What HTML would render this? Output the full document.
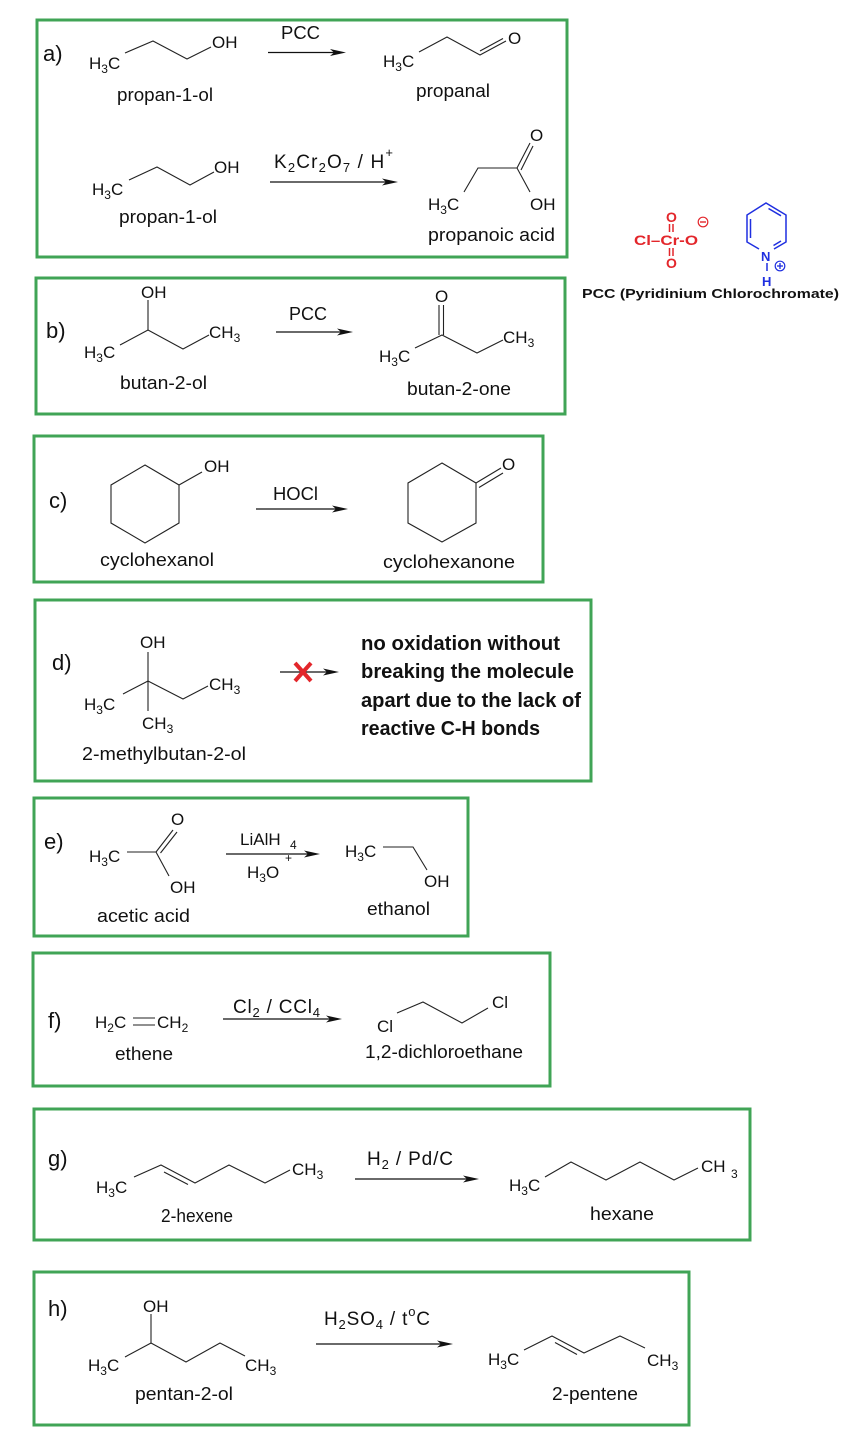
<!DOCTYPE html>
<html>
<head>
<meta charset="utf-8">
<style>
  html,body{margin:0;padding:0;background:#fff;}
  svg{display:block;}
  text{font-family:"Liberation Sans",Arial,sans-serif;fill:#111;}
  .a{font-size:17px;}
  .r{font-size:19px;}
  .r .s{font-size:13px;}
  .n{font-size:18px;}
  .s{font-size:12px;}
  .lab{font-size:22px;}
  .bx{fill:none;stroke:#40a456;stroke-width:3;}
  .b{stroke:#222;stroke-width:1.1;fill:none;}
  .ar{stroke:#111;stroke-width:1.2;}
  .ah{fill:#111;}
  .bold{font-weight:bold;font-size:20px;}
  .red{fill:#e3262b;font-weight:bold;font-size:14px;}
  .blue{fill:#1f2fe0;font-weight:bold;font-size:13px;}
</style>
</head>
<body>
<svg width="851" height="1446" viewBox="0 0 851 1446" xmlns="http://www.w3.org/2000/svg">
<rect x="0" y="0" width="851" height="1446" fill="#fff"/>

<!-- ============ a) ============ -->
<rect class="bx" x="37" y="20" width="530" height="237"/>
<text class="lab" x="43" y="61">a)</text>
<text class="a" x="89" y="69">H<tspan class="s" dy="4">3</tspan><tspan dy="-4">C</tspan></text>
<polyline class="b" points="125,53 153,41 187,59 211,47"/>
<text class="a" x="212" y="48">OH</text>
<text class="n" x="117" y="101" textLength="96" lengthAdjust="spacingAndGlyphs">propan-1-ol</text>
<text class="n" x="281" y="39" textLength="39" lengthAdjust="spacingAndGlyphs">PCC</text>
<line class="ar" x1="268" y1="52.5" x2="340" y2="52.5"/>
<polygon class="ah" points="346,52.5 330,49 334,52.5 330,56"/>
<text class="a" x="383" y="67">H<tspan class="s" dy="4">3</tspan><tspan dy="-4">C</tspan></text>
<polyline class="b" points="419,52 447,37 480,55 506,41"/>
<line class="b" x1="480" y1="51" x2="503" y2="38.5"/>
<text class="a" x="508" y="44">O</text>
<text class="n" x="416" y="97" textLength="74" lengthAdjust="spacingAndGlyphs">propanal</text>

<text class="a" x="92" y="195">H<tspan class="s" dy="4">3</tspan><tspan dy="-4">C</tspan></text>
<polyline class="b" points="129,180 157,167 190,185 214,172"/>
<text class="a" x="214" y="173">OH</text>
<text class="n" x="119" y="223" textLength="98" lengthAdjust="spacingAndGlyphs">propan-1-ol</text>
<text class="r" x="274" y="168" textLength="119" lengthAdjust="spacing">K<tspan class="s" dy="4">2</tspan><tspan dy="-4">Cr</tspan><tspan class="s" dy="4">2</tspan><tspan dy="-4">O</tspan><tspan class="s" dy="4">7</tspan><tspan dy="-4"> / H</tspan><tspan class="s" dy="-11">+</tspan></text>
<line class="ar" x1="270" y1="182" x2="392" y2="182"/>
<polygon class="ah" points="398,182 382,178.5 386,182 382,185.5"/>
<text class="a" x="428" y="210">H<tspan class="s" dy="4">3</tspan><tspan dy="-4">C</tspan></text>
<polyline class="b" points="464,192 478,168 517,168 530,192"/>
<line class="b" x1="517" y1="168" x2="530" y2="143"/>
<line class="b" x1="521" y1="170" x2="533" y2="146"/>
<text class="a" x="530" y="141">O</text>
<text class="a" x="530" y="210">OH</text>
<text class="n" x="428" y="241" textLength="127" lengthAdjust="spacingAndGlyphs">propanoic acid</text>

<!-- ============ PCC structure ============ -->
<text class="red" x="666" y="222">O</text>
<line x1="669.5" y1="224" x2="669.5" y2="232" stroke="#e3262b" stroke-width="1.5"/>
<line x1="673" y1="224" x2="673" y2="232" stroke="#e3262b" stroke-width="1.5"/>
<text class="red" x="634" y="245" textLength="64" lengthAdjust="spacingAndGlyphs">Cl–Cr-O</text>
<line x1="669.5" y1="248" x2="669.5" y2="256" stroke="#e3262b" stroke-width="1.5"/>
<line x1="673" y1="248" x2="673" y2="256" stroke="#e3262b" stroke-width="1.5"/>
<text class="red" x="666" y="268">O</text>
<circle cx="703" cy="222" r="4.8" fill="none" stroke="#e3262b" stroke-width="1.2"/>
<line x1="700" y1="222" x2="706" y2="222" stroke="#e3262b" stroke-width="1.4"/>

<g stroke="#1f2fe0" stroke-width="1.5" fill="none">
  <polyline points="759,249 747,242 747,215 766,203 786,215 786,242 774,249"/>
  <line x1="750.5" y1="219" x2="750.5" y2="238"/>
  <line x1="768.5" y1="208.5" x2="781" y2="215.8"/>
  <line x1="781" y1="241" x2="773.5" y2="245.5"/>
  <line x1="767" y1="263" x2="767" y2="271"/>
  <circle cx="780" cy="266" r="4.8" stroke-width="1.2"/>
  <line x1="777" y1="266" x2="783" y2="266" stroke-width="1.3"/>
  <line x1="780" y1="263" x2="780" y2="269" stroke-width="1.3"/>
</g>
<text class="blue" x="761" y="261">N</text>
<text class="blue" x="762" y="286">H</text>
<text x="582" y="298" font-weight="bold" font-size="13" textLength="257" lengthAdjust="spacingAndGlyphs">PCC (Pyridinium Chlorochromate)</text>

<!-- ============ b) ============ -->
<rect class="bx" x="36" y="278" width="529" height="136"/>
<text class="lab" x="46" y="338">b)</text>
<text class="a" x="141" y="298">OH</text>
<line class="b" x1="148" y1="300" x2="148" y2="330"/>
<text class="a" x="84" y="358">H<tspan class="s" dy="4">3</tspan><tspan dy="-4">C</tspan></text>
<polyline class="b" points="120,345 148,330 183,349 209,335"/>
<text class="a" x="209" y="338">CH<tspan class="s" dy="4">3</tspan></text>
<text class="n" x="120" y="389" textLength="87" lengthAdjust="spacingAndGlyphs">butan-2-ol</text>
<text class="n" x="289" y="320" textLength="38" lengthAdjust="spacingAndGlyphs">PCC</text>
<line class="ar" x1="276" y1="332" x2="347" y2="332"/>
<polygon class="ah" points="353,332 337,328.5 341,332 337,335.5"/>
<text class="a" x="435" y="302">O</text>
<line class="b" x1="439" y1="305" x2="439" y2="335"/>
<line class="b" x1="443.5" y1="305" x2="443.5" y2="335"/>
<text class="a" x="379" y="362">H<tspan class="s" dy="4">3</tspan><tspan dy="-4">C</tspan></text>
<polyline class="b" points="415,348 442,335 477,353 503,340"/>
<text class="a" x="503" y="343">CH<tspan class="s" dy="4">3</tspan></text>
<text class="n" x="407" y="395" textLength="104" lengthAdjust="spacingAndGlyphs">butan-2-one</text>

<!-- ============ c) ============ -->
<rect class="bx" x="34" y="436" width="509" height="146"/>
<text class="lab" x="49" y="508">c)</text>
<polygon class="b" points="145,465 179,485 179,523 145,543 111,523 111,485"/>
<line class="b" x1="179" y1="485" x2="202" y2="472"/>
<text class="a" x="204" y="472">OH</text>
<text class="n" x="273" y="500" textLength="45" lengthAdjust="spacingAndGlyphs">HOCl</text>
<line class="ar" x1="256" y1="509" x2="342" y2="509"/>
<polygon class="ah" points="348,509 332,505.5 336,509 332,512.5"/>
<polygon class="b" points="442,463 476,483 476,523 442,542 408,523 408,483"/>
<line class="b" x1="476" y1="483" x2="501" y2="468"/>
<line class="b" x1="479" y1="487.5" x2="503" y2="473"/>
<text class="a" x="502" y="470">O</text>
<text class="n" x="100" y="566" textLength="114" lengthAdjust="spacingAndGlyphs">cyclohexanol</text>
<text class="n" x="383" y="568" textLength="132" lengthAdjust="spacingAndGlyphs">cyclohexanone</text>

<!-- ============ d) ============ -->
<rect class="bx" x="35" y="600" width="556" height="181"/>
<text class="lab" x="52" y="670">d)</text>
<text class="a" x="140" y="648">OH</text>
<line class="b" x1="148" y1="652" x2="148" y2="711"/>
<text class="a" x="84" y="710">H<tspan class="s" dy="4">3</tspan><tspan dy="-4">C</tspan></text>
<polyline class="b" points="123,694 148,681 183,699 208,686"/>
<text class="a" x="209" y="690">CH<tspan class="s" dy="4">3</tspan></text>
<text class="a" x="142" y="729">CH<tspan class="s" dy="4">3</tspan></text>
<text class="n" x="82" y="760" textLength="164" lengthAdjust="spacingAndGlyphs">2-methylbutan-2-ol</text>
<line class="ar" x1="280" y1="672" x2="333" y2="672"/>
<polygon class="ah" points="339,672 323,668.5 327,672 323,675.5"/>
<g stroke="#e3262b" stroke-width="4" stroke-linecap="butt">
  <line x1="295" y1="663" x2="311" y2="681"/>
  <line x1="311" y1="663" x2="295" y2="681"/>
</g>
<text class="bold" x="361" y="650" textLength="199" lengthAdjust="spacingAndGlyphs">no oxidation without</text>
<text class="bold" x="361" y="678" textLength="213" lengthAdjust="spacingAndGlyphs">breaking the molecule</text>
<text class="bold" x="361" y="707" textLength="220" lengthAdjust="spacingAndGlyphs">apart due to the lack of</text>
<text class="bold" x="361" y="735" textLength="179" lengthAdjust="spacingAndGlyphs">reactive C-H bonds</text>

<!-- ============ e) ============ -->
<rect class="bx" x="34" y="798" width="434" height="138"/>
<text class="lab" x="44" y="849">e)</text>
<text class="a" x="89" y="862">H<tspan class="s" dy="4">3</tspan><tspan dy="-4">C</tspan></text>
<line class="b" x1="127" y1="852" x2="156" y2="852"/>
<line class="b" x1="156" y1="852" x2="173" y2="830"/>
<line class="b" x1="160.5" y1="853" x2="177" y2="832"/>
<line class="b" x1="156" y1="852" x2="169" y2="876"/>
<text class="a" x="171" y="825">O</text>
<text class="a" x="170" y="893">OH</text>
<text class="n" x="97" y="922" textLength="93" lengthAdjust="spacingAndGlyphs">acetic acid</text>
<text class="a" x="240" y="845">LiAlH</text>
<text class="s" x="290" y="849" font-size="13">4</text>
<line class="ar" x1="226" y1="854" x2="314" y2="854"/>
<polygon class="ah" points="320,854 304,850.5 308,854 304,857.5"/>
<text class="a" x="247" y="878">H<tspan class="s" dy="4">3</tspan><tspan dy="-4">O</tspan></text>
<text class="s" x="285" y="862">+</text>
<text class="a" x="345" y="857">H<tspan class="s" dy="4">3</tspan><tspan dy="-4">C</tspan></text>
<polyline class="b" points="383,847 413,847 427,870"/>
<text class="a" x="424" y="887">OH</text>
<text class="n" x="367" y="915" textLength="63" lengthAdjust="spacingAndGlyphs">ethanol</text>

<!-- ============ f) ============ -->
<rect class="bx" x="33" y="953" width="517" height="133"/>
<text class="lab" x="48" y="1028">f)</text>
<text class="a" x="95" y="1028">H<tspan class="s" dy="4">2</tspan><tspan dy="-4">C</tspan></text>
<line class="b" x1="133" y1="1018" x2="155" y2="1018"/>
<line class="b" x1="133" y1="1025" x2="155" y2="1025"/>
<text class="a" x="157" y="1028">CH<tspan class="s" dy="4">2</tspan></text>
<text class="n" x="115" y="1060" textLength="58" lengthAdjust="spacingAndGlyphs">ethene</text>
<text class="r" x="233" y="1013" textLength="87" lengthAdjust="spacing">Cl<tspan class="s" dy="4">2</tspan><tspan dy="-4"> / CCl</tspan><tspan class="s" dy="4">4</tspan></text>
<line class="ar" x1="223" y1="1019" x2="336" y2="1019"/>
<polygon class="ah" points="342,1019 326,1015.5 330,1019 326,1022.5"/>
<text class="a" x="377" y="1032">Cl</text>
<polyline class="b" points="397,1013 423,1002 462,1023 488,1008"/>
<text class="a" x="492" y="1008">Cl</text>
<text class="n" x="365" y="1058" textLength="158" lengthAdjust="spacingAndGlyphs">1,2-dichloroethane</text>

<!-- ============ g) ============ -->
<rect class="bx" x="34" y="1109" width="716" height="131"/>
<text class="lab" x="48" y="1166">g)</text>
<text class="a" x="96" y="1193">H<tspan class="s" dy="4">3</tspan><tspan dy="-4">C</tspan></text>
<polyline class="b" points="134,1177 161,1165 195,1183 229,1165 265,1183 290,1170"/>
<line class="b" x1="164" y1="1172" x2="188" y2="1184.5"/>
<text class="a" x="292" y="1175">CH<tspan class="s" dy="4">3</tspan></text>
<text class="n" x="161" y="1222" textLength="72" lengthAdjust="spacingAndGlyphs">2-hexene</text>
<text class="r" x="367" y="1165" textLength="86" lengthAdjust="spacing">H<tspan class="s" dy="4">2</tspan><tspan dy="-4"> / Pd/C</tspan></text>
<line class="ar" x1="355" y1="1179" x2="473" y2="1179"/>
<polygon class="ah" points="479,1179 463,1175.5 467,1179 463,1182.5"/>
<text class="a" x="509" y="1191">H<tspan class="s" dy="4">3</tspan><tspan dy="-4">C</tspan></text>
<polyline class="b" points="545,1177 571,1162 606,1180 640,1162 674,1180 698,1168"/>
<text class="a" x="701" y="1172">CH</text>
<text class="s" x="731" y="1178" font-size="13">3</text>
<text class="n" x="590" y="1220" textLength="64" lengthAdjust="spacingAndGlyphs">hexane</text>

<!-- ============ h) ============ -->
<rect class="bx" x="34" y="1272" width="655" height="153"/>
<text class="lab" x="48" y="1316">h)</text>
<text class="a" x="143" y="1312">OH</text>
<line class="b" x1="151" y1="1314" x2="151" y2="1343"/>
<text class="a" x="88" y="1371">H<tspan class="s" dy="4">3</tspan><tspan dy="-4">C</tspan></text>
<polyline class="b" points="125,1357 151,1343 186,1362 220,1343 245,1356"/>
<text class="a" x="245" y="1371">CH<tspan class="s" dy="4">3</tspan></text>
<text class="n" x="135" y="1400" textLength="98" lengthAdjust="spacingAndGlyphs">pentan-2-ol</text>
<text class="r" x="324" y="1325" textLength="106" lengthAdjust="spacing">H<tspan class="s" dy="4">2</tspan><tspan dy="-4">SO</tspan><tspan class="s" dy="4">4</tspan><tspan dy="-4"> / t</tspan><tspan class="s" dy="-9">o</tspan><tspan dy="9">C</tspan></text>
<line class="ar" x1="316" y1="1344" x2="447" y2="1344"/>
<polygon class="ah" points="453,1344 437,1340.5 441,1344 437,1347.5"/>
<text class="a" x="488" y="1365">H<tspan class="s" dy="4">3</tspan><tspan dy="-4">C</tspan></text>
<polyline class="b" points="524,1350 552,1336 584,1353 620,1336 645,1348"/>
<line class="b" x1="555" y1="1342.5" x2="577" y2="1354.5"/>
<text class="a" x="647" y="1366">CH<tspan class="s" dy="4">3</tspan></text>
<text class="n" x="552" y="1400" textLength="86" lengthAdjust="spacingAndGlyphs">2-pentene</text>

</svg>
</body>
</html>
